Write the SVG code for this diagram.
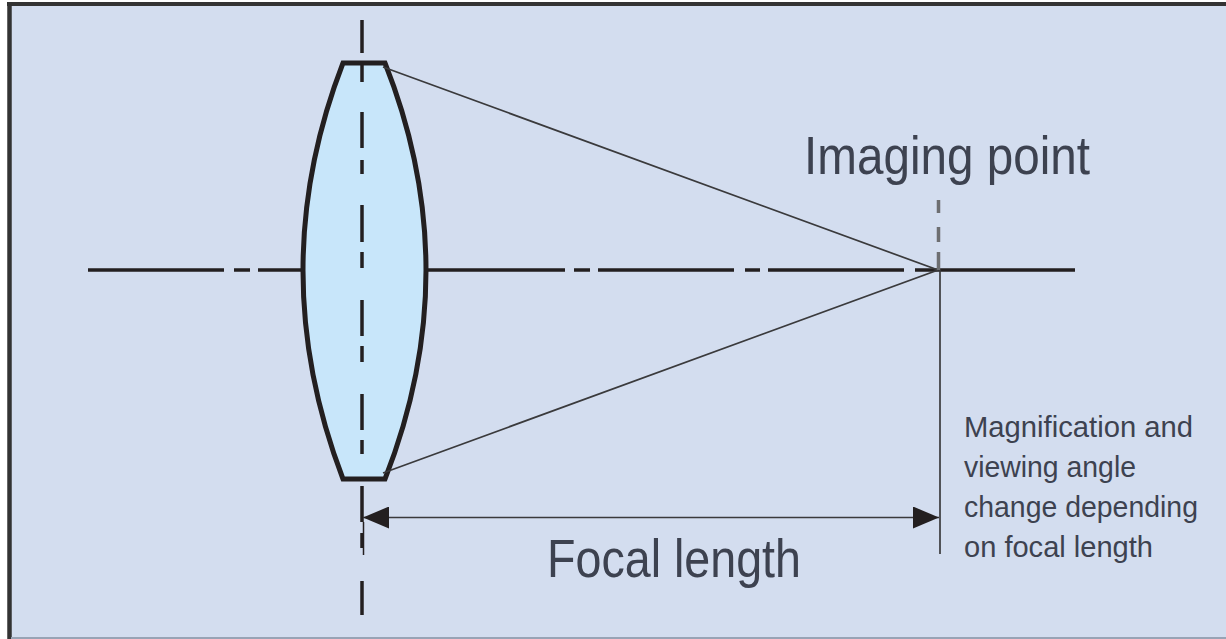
<svg xmlns="http://www.w3.org/2000/svg" width="1226" height="639" viewBox="0 0 1226 639">
<style>
.axis{stroke:#231f20;stroke-width:3.500;fill:none}
.thin{stroke:#3a3a3c;stroke-width:1.700;fill:none}
.lbl{font-family:"Liberation Sans",Arial,sans-serif;fill:#3d4250}
</style>
<defs>
<marker id="ah" viewBox="0 0 26 22" refX="26" refY="11" markerWidth="26" markerHeight="22" markerUnits="userSpaceOnUse" orient="auto-start-reverse"><path d="M0 0L26 11L0 22Z" fill="#231f20"/></marker>
</defs>
<rect width="1226" height="639" fill="#fff"/>
<rect id="frame" x="9" y="4" width="1217" height="634" fill="#d3ddef"/>
<path d="M7 4H1226" stroke="#333" stroke-width="4"/>
<path d="M9.500 2V639" stroke="#333" stroke-width="4.500"/>
<path d="M11 638H1226" stroke="#98a3b5" stroke-width="2"/>
<g id="lens"><path d="M343 63H385Q467 270 385 479H343Q263 270 343 63Z" fill="#c8e6fa" stroke="#231f20" stroke-width="5"/></g>
<g id="connectors">
<path class="axis" d="M88 270H224M234 270H250M258 270H301M428 270H565M574 270H590M598 270H734M745 270H760M768 270H904M915 270H1075"/>
<path class="axis" d="M362 20V53M362 65V82M362 112V148M362 160V174M362 205V242M362 252V268M362 300V336M362 346V362M362 394V430M362 440V454M362 486V522M362 533V548M362 581V615"/>
<path d="M363.500 522V555" stroke="#231f20" stroke-width="1.500"/>
<path class="thin" d="M383 67L938 270L383 473"/>
<path d="M938.500 200V213M938.500 227V242M938.500 252V270" stroke="#6d6e71" stroke-width="3.500" fill="none"/>
<path class="thin" d="M940 270V554"/>
<path class="thin" d="M363 517.500H939" marker-start="url(#ah)" marker-end="url(#ah)"/>
</g>
<g id="label-imaging"><text class="lbl" x="804" y="174" font-size="53" textLength="286" lengthAdjust="spacingAndGlyphs">Imaging point</text></g>
<g id="label-focal"><text class="lbl" x="547" y="577" font-size="54" textLength="254" lengthAdjust="spacingAndGlyphs">Focal length</text></g>
<g id="label-note">
<text class="lbl" x="964" y="437" font-size="30" textLength="229" lengthAdjust="spacingAndGlyphs">Magnification and</text>
<text class="lbl" x="964" y="477" font-size="30" textLength="172" lengthAdjust="spacingAndGlyphs">viewing angle</text>
<text class="lbl" x="964" y="517" font-size="30" textLength="234" lengthAdjust="spacingAndGlyphs">change depending</text>
<text class="lbl" x="964" y="557" font-size="30" textLength="189" lengthAdjust="spacingAndGlyphs">on focal length</text>
</g>
</svg>
